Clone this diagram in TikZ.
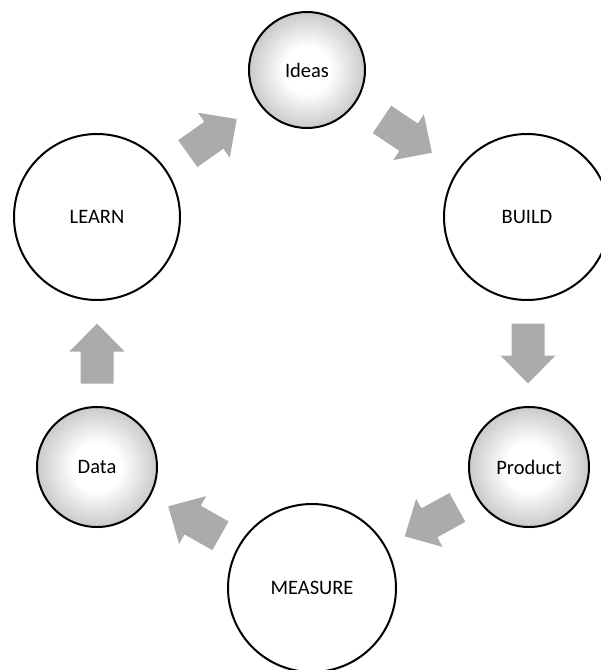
\documentclass[tikz,border=0pt]{standalone}
\usepackage{fontspec}
\setmainfont{Carlito}
\usetikzlibrary{calc}

\definecolor{arrowgray}{RGB}{171,171,171}
\definecolor{rimgray}{RGB}{202,202,202}

% soft white-centred ball fill for the small stage circles
\pgfdeclareradialshading{softball}{\pgfpoint{0bp}{0bp}}{%
  color(0bp)=(white); color(10bp)=(white); color(25bp)=(rimgray); color(50bp)=(rimgray)}

\tikzset{
  stage/.style={circle, draw=black, line width=2pt, inner sep=0pt,
                font=\fontsize{20.5}{24}\selectfont, fill=white},
  bigstage/.style={stage, minimum size=#1},
  smallstage/.style={stage, minimum size=#1, shading=softball},
  blockarrow/.pic={
    \fill[arrowgray] (-30,-16.5) -- (2,-16.5) -- (2,-27.5) -- (30,0)
      -- (2,27.5) -- (2,16.5) -- (-30,16.5) -- cycle;
  }
}

\begin{document}
\begin{tikzpicture}[x=1pt, y=-1pt]
  \useasboundingbox (0,0) rectangle (601,670);

  % stages of the cycle
  \node[smallstage=116] (ideas)   at (307,70)  {Ideas};
  \node[bigstage=166]   (build)   at (527,217) {BUILD};
  \node[smallstage=120] (product) at (529,467) {Product};
  \node[bigstage=168]   (measure) at (312,588) {MEASURE};
  \node[smallstage=120] (data)    at (97,467)  {Data};
  \node[bigstage=166]   (learn)   at (97,217)  {LEARN};

  % block arrows, each centred in the gap between two stages
  \pic[rotate=35.3]   at ($(learn.35.3)!0.5!(ideas.215.3)$)      {blockarrow};
  \pic[rotate=-33.8]  at ($(ideas.-33.8)!0.5!(build.146.2)$)     {blockarrow};
  \pic[rotate=-90]    at ($(build.-90)!0.5!(product.90)$)        {blockarrow};
  \pic[rotate=208.8]  at ($(product.208.8)!0.5!(measure.28.8)$)  {blockarrow};
  \pic[rotate=150.5]  at ($(measure.150.5)!0.5!(data.-29.5)$)    {blockarrow};
  \pic[rotate=90]     at ($(data.90)!0.5!(learn.-90)$)           {blockarrow};
\end{tikzpicture}
\end{document}
